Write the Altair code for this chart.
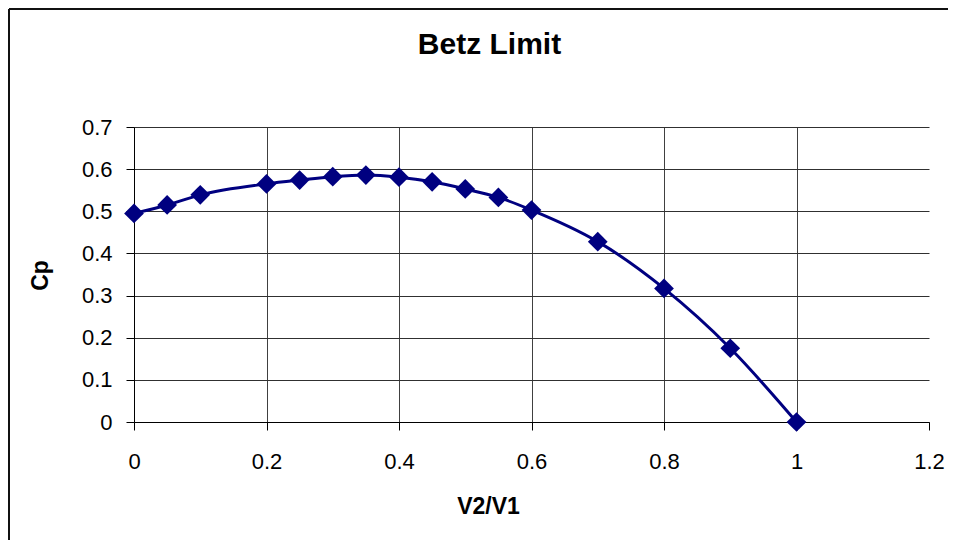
import altair as alt
import pandas as pd

v_ratio = [0, 0.05, 0.1, 0.2, 0.25, 0.3, 0.35, 0.4, 0.45, 0.5, 0.55, 0.6, 0.7, 0.8, 0.9, 1.0]
cp = [0.495, 0.515, 0.539, 0.565, 0.574, 0.582, 0.586, 0.581, 0.570, 0.553, 0.533, 0.503, 0.428, 0.317, 0.175, 0.0]

x_ticks = [0, 0.2, 0.4, 0.6, 0.8, 1.0, 1.2]
y_ticks = [0, 0.1, 0.2, 0.3, 0.4, 0.5, 0.6, 0.7]

df = pd.DataFrame({"V2/V1": v_ratio, "Cp": cp})

W, H = 795, 295
FONT = "Liberation Sans"
NAVY = "#000080"

x_enc = alt.X(
    "V2/V1:Q",
    scale=alt.Scale(domain=[0, 1.2], nice=False, zero=False),
    axis=alt.Axis(
        values=x_ticks,
        format="~g",
        title="V2/V1",
        titleFont=FONT,
        titleFontSize=23,
        titleFontWeight="bold",
        titleColor="black",
        titleX=354,
        titleY=84,
        titleBaseline="middle",
        labelFont=FONT,
        labelFontSize=22,
        labelColor="black",
        labelPadding=21,
        labelFlush=False,
        tickSize=8,
        tickColor="black",
        domainColor="black",
        grid=True,
        gridColor="#404040",
        gridOpacity={"condition": {"test": "datum.value > 1.1", "value": 0}, "value": 1},
    ),
)
y_enc = alt.Y(
    "Cp:Q",
    scale=alt.Scale(domain=[0, 0.7], nice=False, zero=False),
    axis=alt.Axis(
        values=y_ticks,
        format="~g",
        title="Cp",
        titleFont=FONT,
        titleFontSize=23,
        titleFontWeight="bold",
        titleColor="black",
        titleX=-94,
        titleY=148,
        titleAngle=-90,
        titleBaseline="middle",
        labelFont=FONT,
        labelFontSize=22,
        labelColor="black",
        labelPadding=14,
        labelFlush=False,
        tickSize=8,
        tickColor="black",
        domainColor="black",
        grid=True,
        gridColor="#303030",
    ),
)

line = alt.Chart(df).mark_line(color=NAVY, strokeWidth=3, interpolate="monotone").encode(x=x_enc, y=y_enc)
pts = alt.Chart(df).mark_point(shape="diamond", filled=True, color=NAVY, size=390, opacity=1).encode(x="V2/V1:Q", y="Cp:Q")

frame_df = pd.DataFrame({"k": [0]})
frame_top = alt.Chart(frame_df).mark_rule(color="#111", strokeWidth=2).encode(
    x=alt.value(-125), x2=alt.value(W + 30), y=alt.value(-118)
)
frame_left = alt.Chart(frame_df).mark_rule(color="#111", strokeWidth=2).encode(
    x=alt.value(-125), y=alt.value(-118), y2=alt.value(H + 130)
)

chart = (
    alt.layer(line, pts, frame_top, frame_left)
    .properties(
        width=W,
        height=H,
        padding={"left": 126, "top": 119, "right": 19, "bottom": 118},
        autosize=alt.AutoSizeParams(type="none"),
        title=alt.TitleParams(
            "Betz Limit",
            font=FONT,
            fontSize=30,
            fontWeight="bold",
            color="black",
            anchor="middle",
            dx=-42,
            offset=-52,
        ),
        background="white",
    )
    .configure_view(stroke=None)
)

chart.save("out.html", embed_options={"renderer": "svg", "actions": False})
